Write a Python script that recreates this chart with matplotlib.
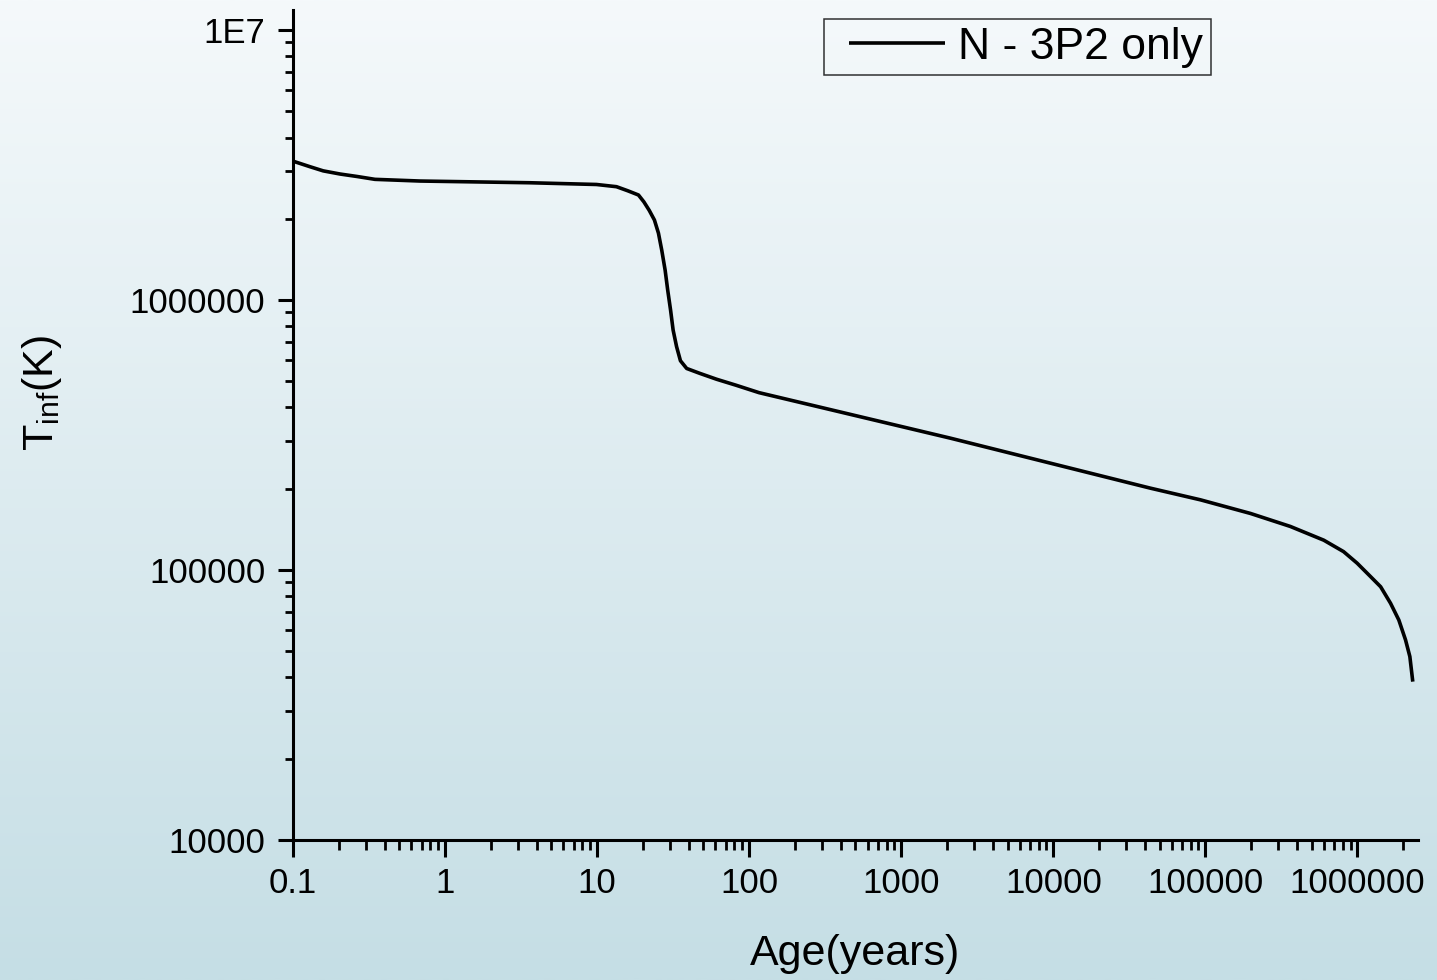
import numpy as np
import matplotlib
matplotlib.use("Agg")
import matplotlib.pyplot as plt
from matplotlib.ticker import FixedLocator, FixedFormatter, NullFormatter, LogLocator
from matplotlib.lines import Line2D
from matplotlib.legend_handler import HandlerLine2D

# ---------------- data ----------------
age_years = [0.1, 0.129, 0.158, 0.204, 0.263, 0.346, 0.685, 3.6, 9.9,
             13.4, 15.9, 18.7, 20.3, 22.0, 23.8, 25.3, 26.6, 28.0, 29.1,
             30.4, 31.6, 33.3, 35.3, 38.8, 47.4, 61.0, 81.6, 116,
             2.1e3, 4.35e4, 9.27e4, 1.98e5, 3.62e5, 6.0e5, 8.1e5, 9.95e5,
             1.22e6, 1.42e6, 1.65e6, 1.87e6, 2.07e6, 2.21e6, 2.31e6]
t_inf_K = [3.27e6, 3.12e6, 3.01e6, 2.93e6, 2.87e6, 2.80e6, 2.76e6, 2.72e6, 2.68e6,
           2.63e6, 2.54e6, 2.45e6, 2.31e6, 2.15e6, 1.98e6, 1.77e6, 1.53e6, 1.29e6, 1.09e6,
           9.18e5, 7.74e5, 6.72e5, 5.96e5, 5.58e5, 5.35e5, 5.09e5, 4.84e5, 4.54e5,
           3.08e5, 2.01e5, 1.82e5, 1.62e5, 1.45e5, 1.29e5, 1.17e5, 1.06e5,
           9.45e4, 8.67e4, 7.53e4, 6.53e4, 5.51e4, 4.78e4, 3.86e4]
series_label = "N - 3P2 only"

x_tick_values = [0.1, 1, 10, 100, 1000, 10000, 100000, 1000000]
x_tick_labels = ["0.1", "1", "10", "100", "1000", "10000", "100000", "1000000"]
y_tick_values = [1e4, 1e5, 1e6, 1e7]
y_tick_labels = ["10000", "100000", "1000000", "1E7"]

x_label = "Age(years)"
y_label = r"T$_{\mathrm{inf}}$(K)"

# ---------------- styling ----------------
plt.rcParams['font.family'] = ['Liberation Sans', 'DejaVu Sans']
plt.rcParams['mathtext.fontset'] = 'custom'
plt.rcParams['mathtext.rm'] = 'Liberation Sans'
plt.rcParams['mathtext.it'] = 'Liberation Sans'

W, H = 1437, 980
fig = plt.figure(figsize=(W / 100, H / 100), dpi=100)

# background gradient
bg = fig.add_axes([0, 0, 1, 1], zorder=-10)
top_c = np.array([245, 249, 251]) / 255.0
bot_c = np.array([197, 222, 229]) / 255.0
t = np.linspace(0, 1, 256)[:, None]
grad = top_c[None, :] * (1 - t) + bot_c[None, :] * t
bg.imshow(grad[:, None, :], aspect='auto', extent=[0, 1, 0, 1], interpolation='bilinear')
bg.set_axis_off()

left_px, right_px, top_px, bottom_px = 293, 1418, 10, 840
ax = fig.add_axes([left_px / W, 1 - bottom_px / H,
                   (right_px - left_px) / W, (bottom_px - top_px) / H])
ax.set_facecolor('none')

ax.plot(age_years, t_inf_K, color='black', lw=2.6, solid_joinstyle='round',
        solid_capstyle='butt', label=series_label)

ax.set_xscale('log')
ax.set_yscale('log')
ax.set_xlim(0.1, 2.5e6)
ax.set_ylim(1e4, 1.187e7)

for s in ['top', 'right']:
    ax.spines[s].set_visible(False)
for s in ['left', 'bottom']:
    ax.spines[s].set_linewidth(2.2)
    ax.spines[s].set_color('black')

ax.xaxis.set_major_locator(FixedLocator(x_tick_values))
ax.xaxis.set_major_formatter(FixedFormatter(x_tick_labels))
ax.yaxis.set_major_locator(FixedLocator(y_tick_values))
ax.yaxis.set_major_formatter(FixedFormatter(y_tick_labels))
ax.xaxis.set_minor_locator(LogLocator(base=10, subs=np.arange(2, 10), numticks=50))
ax.yaxis.set_minor_locator(LogLocator(base=10, subs=np.arange(2, 10), numticks=50))
ax.xaxis.set_minor_formatter(NullFormatter())
ax.yaxis.set_minor_formatter(NullFormatter())

ax.tick_params(axis='x', which='major', direction='out', length=12.5, width=2.2,
               labelsize=25, pad=7)
ax.tick_params(axis='x', which='minor', direction='out', length=7, width=2.0)
ax.tick_params(axis='y', which='major', direction='out', length=11, width=2.2,
               labelsize=25, pad=9)
ax.tick_params(axis='y', which='minor', direction='out', length=5.5, width=2.0)

ax.set_xlabel(x_label, fontsize=31)
ax.xaxis.set_label_coords(0.5, (bottom_px - 934) / (bottom_px - top_px))
ax.xaxis.label.set_va('top')

ax.set_ylabel(y_label, fontsize=31)
ax.yaxis.set_label_coords((64 - left_px) / (right_px - left_px),
                          (bottom_px - 393) / (bottom_px - top_px))

leg = ax.legend(loc='upper left', bbox_to_anchor=(824 / W, 1 - 19 / H),
                bbox_transform=fig.transFigure, fontsize=32, frameon=True,
                fancybox=False, borderpad=0.17, borderaxespad=0,
                handlelength=2.95, handletextpad=-0.1, numpoints=2,
                handler_map={Line2D: HandlerLine2D(marker_pad=0.4, numpoints=2)})
frame = leg.get_frame()
frame.set_facecolor('none')
frame.set_edgecolor('black')
frame.set_linewidth(1.1)
for line in leg.get_lines():
    line.set_linewidth(2.6)

fig.savefig('out.png', dpi=100)
